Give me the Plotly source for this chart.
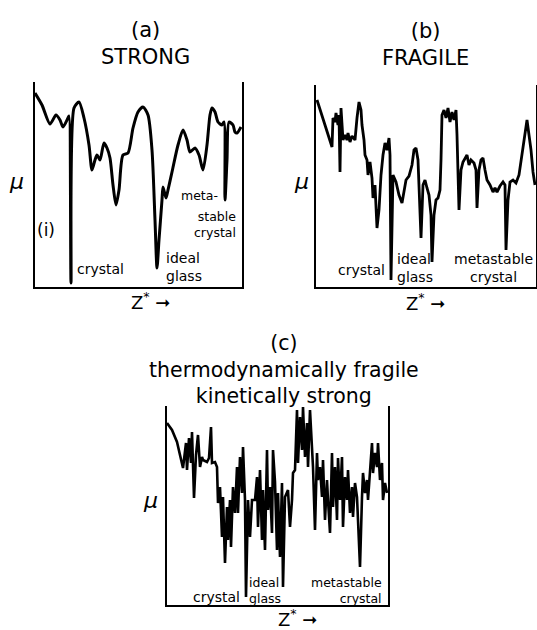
import plotly.graph_objects as go

W, H = 537, 630

# ---- data (arbitrary units: Z* along x, mu up) ----
a_z = [0, 7, 15, 21, 25, 28, 33, 34, 36, 39, 44, 49, 54, 57, 60, 62, 65, 69, 72, 75, 78, 81, 84, 88, 93,
       98, 103, 108, 113, 117, 120, 122, 124, 127, 128, 131, 133, 137, 143, 148, 152, 155, 160, 164, 168,
       172, 175, 177, 180, 183, 187, 189, 190, 192, 194, 198, 200, 202, 206]
a_mu = [194, 182, 163, 172, 167, 160, 169, 171, 4, 179, 185, 169, 142, 117, 127, 132, 127, 144, 139, 129,
        102, 82, 97, 132, 134, 159, 175, 180, 172, 137, 67, 19, 47, 87, 100, 89, 97, 115, 142, 157, 147,
        135, 139, 132, 117, 142, 172, 179, 175, 165, 162, 165, 87, 127, 165, 162, 155, 154, 160]

b_z = [1, 6, 11, 16, 17, 19, 20, 22, 23, 24, 25, 27, 29, 31, 32, 34, 36, 39, 41, 43, 45, 46, 48, 49, 51,
       52, 54, 56, 57, 59, 61, 63, 65, 67, 69, 71, 73, 74, 75, 77, 80, 83, 86, 88, 90, 93, 96, 98, 100,
       102, 103, 105, 107, 109, 111, 113, 115, 116, 118, 120, 122, 124, 125, 126, 128, 130, 132, 134, 136,
       138, 140, 141, 143, 145, 147, 149, 151, 153, 155, 158, 160, 161, 163, 165, 167, 169, 171, 174, 177,
       179, 181, 184, 187, 189, 190, 192, 194, 197, 200, 203, 206, 209, 211, 213, 215, 217, 219]
b_mu = [187, 172, 157, 140, 169, 165, 174, 162, 172, 115, 179, 147, 152, 147, 154, 145, 151, 147, 169, 185,
        177, 162, 147, 132, 127, 112, 125, 109, 89, 102, 59, 77, 112, 132, 144, 137, 149, 132, 7, 112, 105,
        92, 84, 97, 107, 111, 122, 137, 139, 127, 102, 49, 102, 107, 99, 92, 72, 25, 72, 87, 89, 97, 127,
        172, 177, 169, 179, 165, 175, 167, 177, 152, 77, 117, 125, 129, 132, 122, 127, 124, 117, 79, 117,
        127, 129, 117, 107, 102, 95, 99, 95, 101, 105, 102, 37, 87, 105, 107, 104, 112, 132, 152, 167, 152,
        137, 115, 102]

c_z = [0, 5, 10, 13, 15, 16, 19, 20, 22, 24, 25, 27, 29, 31, 33, 35, 36, 40, 42, 44, 45, 48, 50, 51, 53,
       55, 56, 58, 60, 61, 63, 64, 66, 68, 70, 71, 73, 75, 76, 78, 79, 80, 81, 83, 85, 88, 90, 91, 93, 95,
       96, 98, 100, 101, 103, 105, 106, 108, 110, 111, 113, 115, 116, 118, 121, 123, 125, 126, 128, 130,
       131, 133, 135, 136, 138, 140, 141, 143, 145, 146, 148, 150, 151, 153, 155, 156, 158, 160, 161, 163,
       165, 166, 168, 170, 171, 173, 175, 176, 178, 180, 181, 183, 185, 186, 188, 190, 191, 193, 195, 196,
       198, 200, 201, 203, 205, 206, 208, 210, 211, 213, 215, 216, 218, 220]
c_mu = [182, 175, 163, 150, 140, 137, 162, 135, 167, 142, 173, 107, 150, 170, 138, 148, 145, 143, 147, 178,
        142, 143, 138, 102, 118, 68, 108, 42, 98, 65, 105, 58, 118, 92, 138, 92, 148, 112, 158, 105, 8, 82,
        105, 68, 105, 105, 128, 78, 135, 65, 115, 55, 155, 95, 118, 72, 155, 123, 55, 112, 48, 122, 18, 108,
        115, 78, 105, 132, 135, 195, 142, 188, 155, 198, 148, 182, 138, 195, 152, 138, 75, 152, 125, 138,
        108, 145, 85, 125, 105, 72, 152, 98, 138, 85, 147, 105, 148, 78, 128, 105, 135, 92, 118, 88, 122,
        108, 85, 38, 108, 132, 112, 125, 105, 138, 162, 132, 152, 138, 162, 125, 142, 105, 122, 112]

panels = [
    dict(z=a_z, mu=a_mu, xr=[0, 207], yr=[0, 205], box=(35, 242, 82, 287), shape="spline", lw=3.0),
    dict(z=b_z, mu=b_mu, xr=[0, 220], yr=[0, 202], box=(316, 536, 85, 287), shape="linear", lw=2.8),
    dict(z=c_z, mu=c_mu, xr=[0, 221], yr=[0, 199], box=(167, 388, 406, 605), shape="linear", lw=2.6),
]

FONT = "DejaVu Sans"


def px(x):
    return x / W


def py(y):
    return 1 - y / H


fig = go.Figure()
layout = dict(
    width=W, height=H, margin=dict(l=0, r=0, t=0, b=0),
    paper_bgcolor="white", plot_bgcolor="white", showlegend=False,
    font=dict(family=FONT, color="black"),
)

for i, p in enumerate(panels):
    n = "" if i == 0 else str(i + 1)
    x0, x1, y0, y1 = p["box"]
    line = dict(color="black", width=p["lw"], shape=p["shape"])
    if p["shape"] == "spline":
        line["smoothing"] = 0.7
    fig.add_trace(go.Scatter(x=p["z"], y=p["mu"], mode="lines", line=line,
                             xaxis="x" + n, yaxis="y" + n, hoverinfo="skip"))
    layout["xaxis" + n] = dict(domain=[px(x0), px(x1)], range=p["xr"], anchor="y" + n,
                               showline=True, linecolor="black", linewidth=1.8, mirror=False,
                               showgrid=False, zeroline=False, showticklabels=False, ticks="")
    layout["yaxis" + n] = dict(domain=[py(y1), py(y0)], range=p["yr"], anchor="x" + n,
                               showline=True, linecolor="black", linewidth=1.8, mirror=True,
                               showgrid=False, zeroline=False, showticklabels=False, ticks="")

fig.update_layout(**layout)


def ann(text, x, y, size=14, xanchor="center", align="center"):
    fig.add_annotation(text=text, x=px(x), y=py(y), xref="paper", yref="paper",
                       xanchor=xanchor, yanchor="middle", align=align, showarrow=False,
                       font=dict(size=size, family=FONT, color="black"))


# titles
ann("(a)<br>STRONG", 145, 44, 21)
ann("(b)<br>FRAGILE", 425, 45, 21)
ann("(c)<br>thermodynamically fragile<br>kinetically strong", 284, 369, 20.5)

# axis labels
for (mx, my) in [(16, 182), (301, 182), (150, 500)]:
    ann("<i>μ</i>", mx, my, 22)
for (zx, zy) in [(150, 301), (425, 302), (297, 618)]:
    ann("Z<sup>*</sup> ➞", zx, zy, 18)

# panel (a) labels
ann("(i)", 46, 230, 17)
ann("crystal", 75, 269, 14, xanchor="left")
ann("ideal<br>glass", 164, 267, 14, xanchor="left", align="left")
ann("meta-", 199, 195, 12.5)
ann("stable<br>crystal", 238, 224, 12.5, xanchor="right", align="right")

# panel (b) labels
ann("crystal", 387, 270, 14, xanchor="right")
ann("ideal<br>glass", 395, 268, 14, xanchor="left", align="left")
ann("metastable<br>crystal", 493, 268, 14)

# panel (c) labels
ann("crystal", 242, 597, 14, xanchor="right")
ann("ideal<br>glass", 247, 590, 12.5, xanchor="left", align="left")
ann("metastable<br>crystal", 384, 590, 12.5, xanchor="right", align="right")

fig.write_html("out.html")
